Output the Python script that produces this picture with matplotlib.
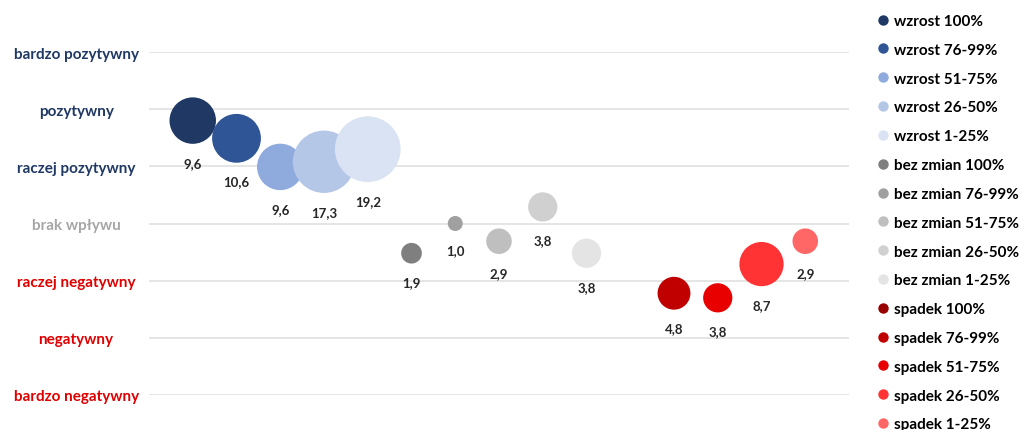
import matplotlib.pyplot as plt
from matplotlib.lines import Line2D

plt.rcParams['font.family'] = ['Lato', 'DejaVu Sans']
plt.rcParams['font.weight'] = 'bold'

# series names, one bubble per series
series = ["wzrost 100%", "wzrost 76-99%", "wzrost 51-75%", "wzrost 26-50%", "wzrost 1-25%",
          "bez zmian 100%", "bez zmian 76-99%", "bez zmian 51-75%", "bez zmian 26-50%", "bez zmian 1-25%",
          "spadek 100%", "spadek 76-99%", "spadek 51-75%", "spadek 26-50%", "spadek 1-25%"]
colors = ["#203864", "#2f5597", "#8faadc", "#b4c7e7", "#dae3f3",
          "#7f7f7f", "#a0a0a0", "#bfbfbf", "#d0d0d0", "#e4e4e4",
          "#990000", "#c00000", "#e80000", "#ff3333", "#ff6666"]

# x = series position, y = average rating (1..7), size = share in %
x_pos = [1, 2, 3, 4, 5, 6, 7, 8, 9, 10, 11, 12, 13, 14, 15]
y_val = [5.80, 5.49, 4.99, 5.08, 5.30, 3.48, 4.00, 3.69, 4.29, 3.48, None, 2.78, 2.70, 3.29, 3.69]
share = [9.6, 10.6, 9.6, 17.3, 19.2, 1.9, 1.0, 2.9, 3.8, 3.8, None, 4.8, 3.8, 8.7, 2.9]

levels = [1, 2, 3, 4, 5, 6, 7]
level_labels = ["bardzo negatywny", "negatywny", "raczej negatywny", "brak wpływu",
                "raczej pozytywny", "pozytywny", "bardzo pozytywny"]
level_colors = ["#e00000", "#e00000", "#e00000", "#a6a6a6", "#203864", "#203864", "#203864"]

fig = plt.figure(figsize=(10.21, 4.31), dpi=100)
ax = fig.add_axes([149 / 1021, 35 / 431, 700 / 1021, 343 / 431])

scale = 116.6  # bubble area per percent point (points^2)
for i in range(len(series)):
    if share[i] is None:
        continue
    ax.scatter(x_pos[i], y_val[i], s=share[i] * scale, color=colors[i],
               edgecolors='none', clip_on=False, zorder=3)
    r_pt = (share[i] * scale) ** 0.5 / 2
    ax.annotate(f"{share[i]:.1f}".replace(".", ","), (x_pos[i], y_val[i]),
                xytext=(0, -(r_pt + 13.5)), textcoords='offset points',
                ha='center', va='center', fontsize=9.5, fontweight='bold',
                color='#262626', annotation_clip=False)

ax.set_xlim(0, 16)
ax.set_ylim(1, 7)
ax.set_xticks([])
ax.set_yticks(levels)
ax.set_yticklabels(level_labels)
ax.tick_params(axis='y', length=0, pad=52.5)
for lbl, c in zip(ax.get_yticklabels(), level_colors):
    lbl.set_color(c)
    lbl.set_fontsize(11)
    lbl.set_fontweight('bold')
    lbl.set_horizontalalignment('center')
ax.grid(axis='y', color='#e3e3e3', linewidth=1.3, zorder=0)
for s in ax.spines.values():
    s.set_visible(False)

handles = [Line2D([], [], marker='o', linestyle='none', markersize=7.5,
                  markerfacecolor=c, markeredgecolor='none') for c in colors]
fig.legend(handles, series, loc='upper left', bbox_to_anchor=(878 / 1021, 1 - 15 / 431),
           frameon=False, labelspacing=0.97, handlelength=0.7,
           handletextpad=0.35, borderpad=0, borderaxespad=0,
           prop={'weight': 'bold', 'size': 11})

fig.savefig("out.png", dpi=100)
